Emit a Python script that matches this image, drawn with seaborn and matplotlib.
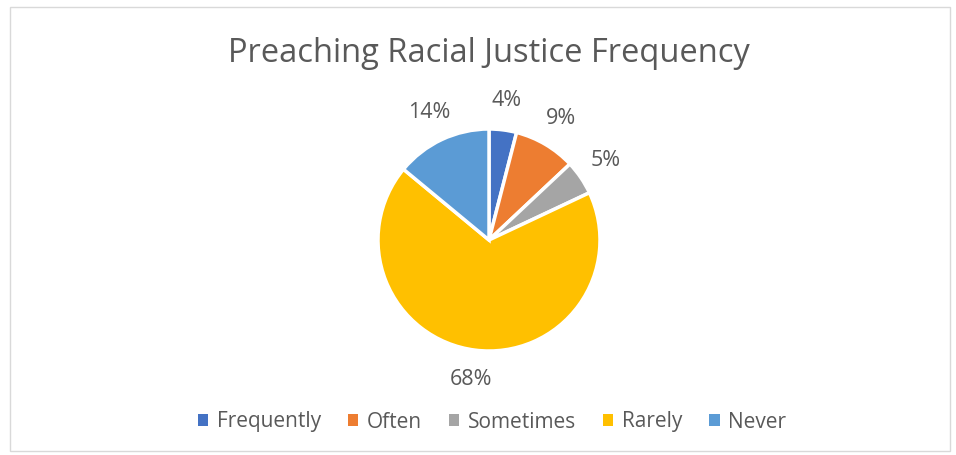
import matplotlib
matplotlib.use("Agg")
import matplotlib.pyplot as plt
import seaborn as sns
from matplotlib.patches import Patch, Rectangle

categories = ["Frequently", "Often", "Sometimes", "Rarely", "Never"]
values = [4, 9, 5, 68, 14]
colors = ["#4472C4", "#ED7D31", "#A5A5A5", "#FFC000", "#5B9BD5"]
title = "Preaching Racial Justice Frequency"

sns.set_theme(style="white")
plt.rcParams["font.family"] = ["Open Sans", "DejaVu Sans"]
text_color = "#595959"

W, H = 956, 455
fig = plt.figure(figsize=(W / 100, H / 100), dpi=100)

# chart border
fig.patches.append(Rectangle((10 / W, 4 / H), 940 / W, 444 / H, transform=fig.transFigure,
                             fill=False, edgecolor="#D9D9D9", linewidth=1.0))

r = 111
cx, cy = 489, 240
ax = fig.add_axes([(cx - r) / W, (H - cy - r) / H, 2 * r / W, 2 * r / H])
wedges, texts = ax.pie(values, colors=colors, startangle=90, counterclock=False,
                       labels=[f"{v}%" for v in values], labeldistance=1.27,
                       wedgeprops=dict(edgecolor="white", linewidth=2.5),
                       textprops=dict(color=text_color, fontsize=15.5))
for t in texts:
    t.set_horizontalalignment("center")
    t.set_verticalalignment("center")
ax.set_xlim(-1, 1)
ax.set_ylim(-1, 1)
ax.set_aspect("equal")
ax.axis("off")

fig.text(489 / W, 1 - 53 / H, title, ha="center", va="center", fontsize=23.5, color=text_color)

handles = [Patch(facecolor=c, edgecolor="none") for c in colors]
fig.legend(handles, categories, loc="center", bbox_to_anchor=(492 / W, 1 - 422 / H), ncol=5,
           frameon=False, fontsize=15, labelcolor=text_color, handlelength=0.5, handleheight=0.5,
           handletextpad=0.4, columnspacing=1.3)

fig.savefig("out.png", dpi=100)
